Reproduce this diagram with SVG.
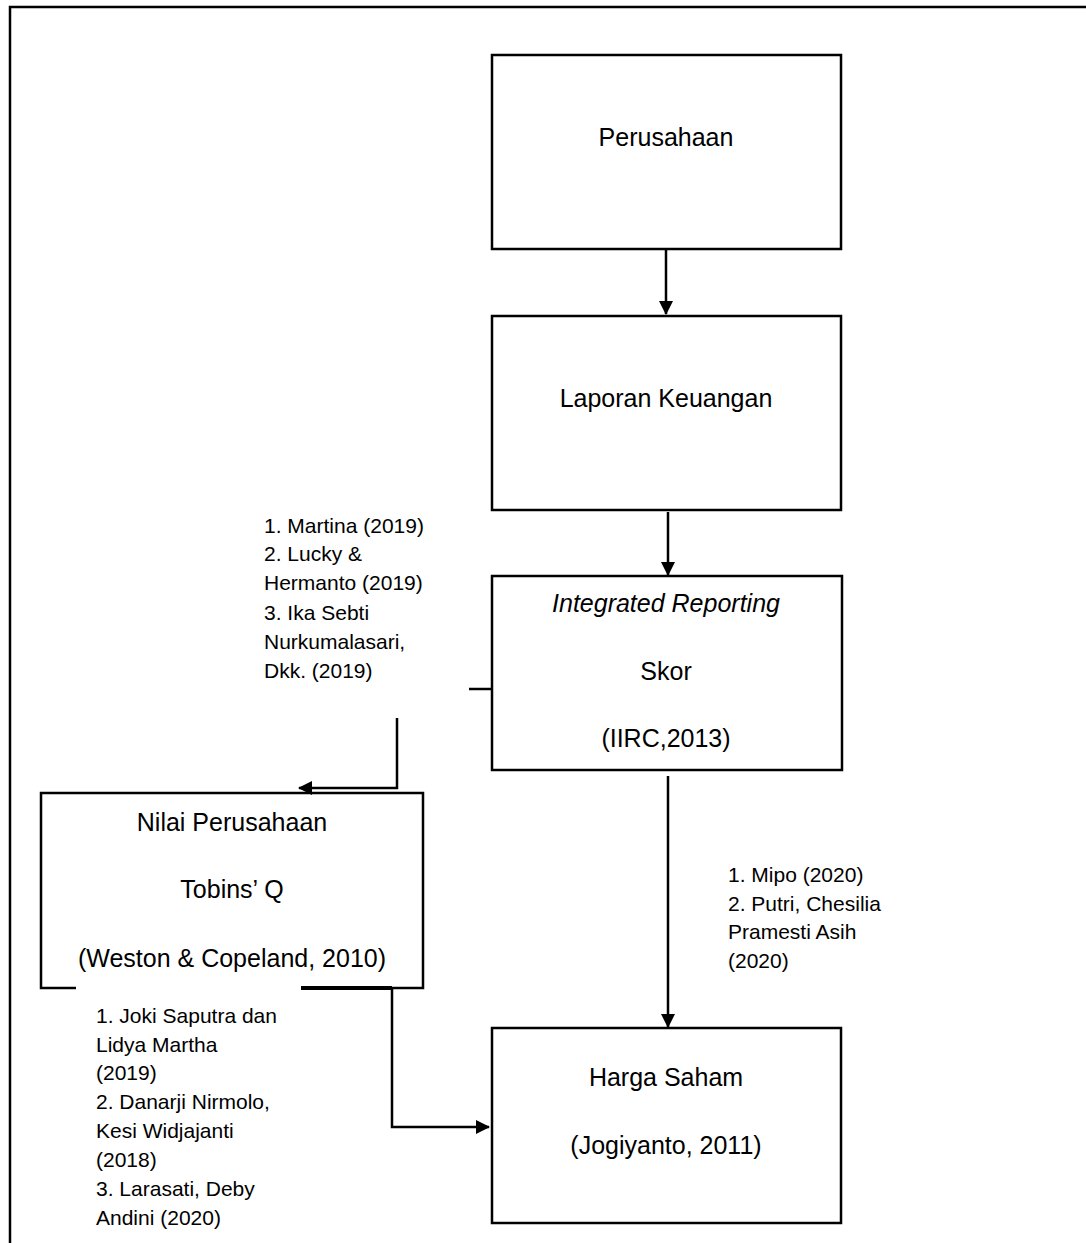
<svg xmlns="http://www.w3.org/2000/svg" width="1086" height="1243" viewBox="0 0 1086 1243">
<style>
.box{fill:#fff;stroke:#000;stroke-width:2.5}
.ln{fill:none;stroke:#000;stroke-width:2.5}
.t{font-family:"Liberation Sans",Arial,sans-serif;font-size:25px;fill:#000;text-anchor:middle}
.s{font-family:"Liberation Sans",Arial,sans-serif;font-size:21px;fill:#000}
</style>
<defs>
<marker id="ah" markerUnits="userSpaceOnUse" markerWidth="14" markerHeight="14" refX="13" refY="7" orient="auto">
<path d="M0,0 L14,7 L0,14 z" fill="#000"/>
</marker>
</defs>
<rect width="1086" height="1243" fill="#fff"/>
<g id="frame">
<path class="ln" d="M10,1243 L10,7 L1086,7"/>
</g>
<g id="perusahaan">
<rect class="box" x="492" y="55" width="349" height="194"/>
<text class="t" x="666" y="146">Perusahaan</text>
</g>
<g id="laporan">
<rect class="box" x="492" y="316" width="349" height="194"/>
<text class="t" x="666" y="407">Laporan Keuangan</text>
</g>
<g id="integrated">
<rect class="box" x="492" y="576" width="350" height="194"/>
<text class="t" x="666" y="612" font-style="italic">Integrated Reporting</text>
<text class="t" x="666" y="680">Skor</text>
<text class="t" x="666" y="747">(IIRC,2013)</text>
</g>
<g id="nilai">
<rect class="box" x="41" y="793" width="382" height="195"/>
<text class="t" x="232" y="831">Nilai Perusahaan</text>
<text class="t" x="232" y="898">Tobins’ Q</text>
<text class="t" x="232" y="967">(Weston &amp; Copeland, 2010)</text>
</g>
<g id="harga">
<rect class="box" x="492" y="1028" width="349" height="195"/>
<text class="t" x="666" y="1086">Harga Saham</text>
<text class="t" x="666" y="1154">(Jogiyanto, 2011)</text>
</g>
<g id="connectors">
<line class="ln" x1="666" y1="249" x2="666" y2="314" marker-end="url(#ah)"/>
<line class="ln" x1="668" y1="512" x2="668" y2="575" marker-end="url(#ah)"/>
<line class="ln" x1="668" y1="776" x2="668" y2="1027" marker-end="url(#ah)"/>
<line class="ln" x1="469" y1="689" x2="493" y2="689"/>
<path class="ln" d="M397,718 L397,788 L299,788" marker-end="url(#ah)"/>
<path class="ln" d="M392,988 L392,1127 L489,1127" marker-end="url(#ah)"/>
<line x1="301" y1="988" x2="392" y2="988" stroke="#000" stroke-width="4"/>
</g>
<g id="label-ir-nilai">
<text class="s" x="264" y="533">1. Martina (2019)</text>
<text class="s" x="264" y="561">2. Lucky &amp;</text>
<text class="s" x="264" y="590">Hermanto (2019)</text>
<text class="s" x="264" y="620">3. Ika Sebti</text>
<text class="s" x="264" y="649">Nurkumalasari,</text>
<text class="s" x="264" y="678">Dkk. (2019)</text>
</g>
<g id="label-ir-harga">
<text class="s" x="728" y="882">1. Mipo (2020)</text>
<text class="s" x="728" y="911">2. Putri, Chesilia</text>
<text class="s" x="728" y="939">Pramesti Asih</text>
<text class="s" x="728" y="968">(2020)</text>
</g>
<g id="label-nilai-harga">
<rect x="76" y="984" width="225" height="10" fill="#fff"/>
<text class="s" x="96" y="1023">1. Joki Saputra dan</text>
<text class="s" x="96" y="1052">Lidya Martha</text>
<text class="s" x="96" y="1080">(2019)</text>
<text class="s" x="96" y="1109">2. Danarji Nirmolo,</text>
<text class="s" x="96" y="1138">Kesi Widjajanti</text>
<text class="s" x="96" y="1167">(2018)</text>
<text class="s" x="96" y="1196">3. Larasati, Deby</text>
<text class="s" x="96" y="1225">Andini (2020)</text>
</g>
</svg>
